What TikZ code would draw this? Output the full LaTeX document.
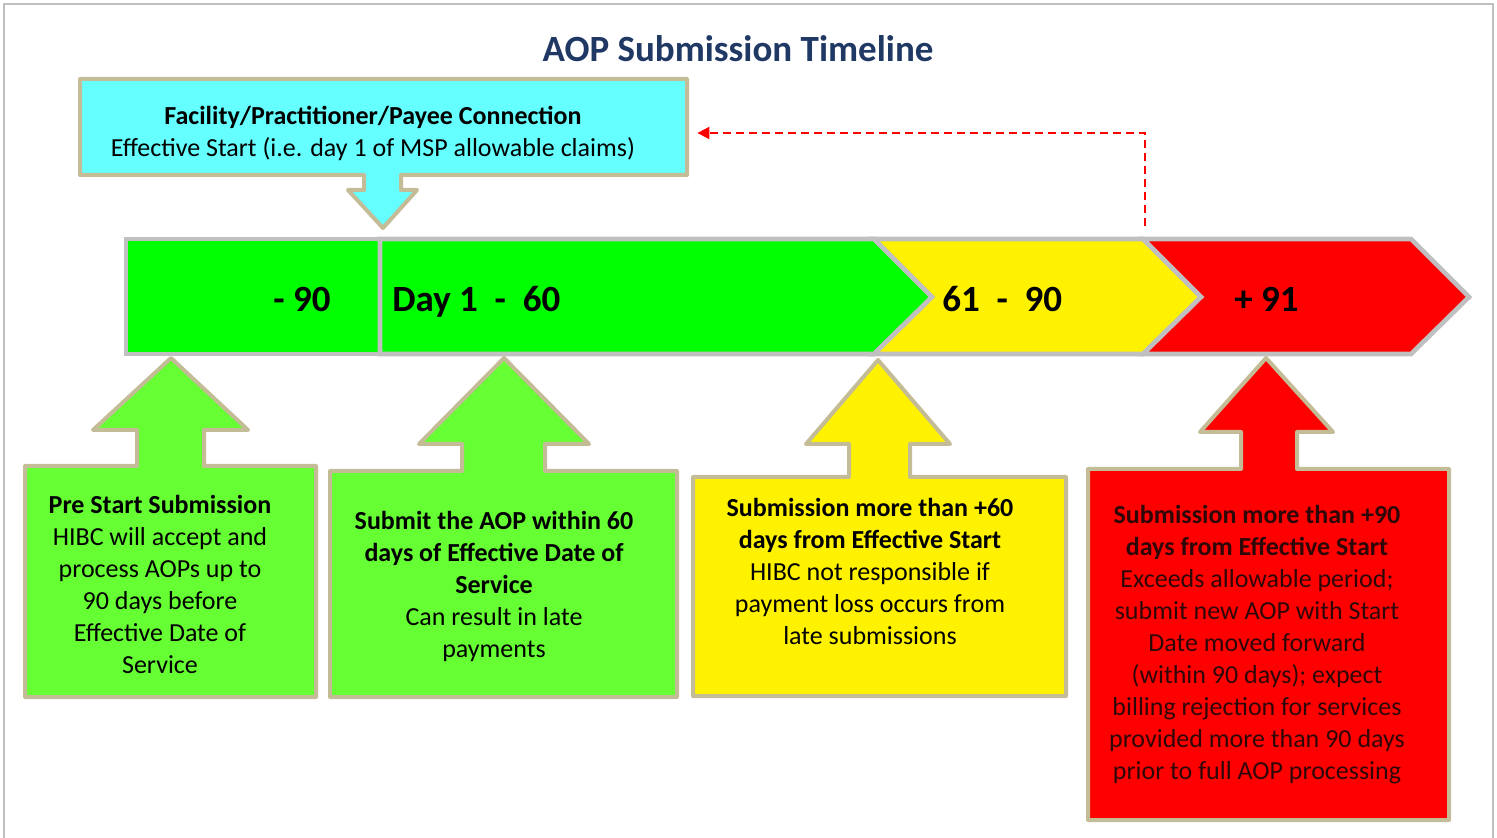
\documentclass[tikz,border=0pt]{standalone}
\usepackage{fontspec}
\setmainfont{Carlito}
\usetikzlibrary{arrows.meta,positioning}

\definecolor{tanline}{HTML}{C4BC96}
\definecolor{cyanfill}{HTML}{66FFFF}
\definecolor{limefill}{HTML}{66FF33}
\definecolor{bargray}{HTML}{C0C0C0}
\definecolor{framegray}{HTML}{BFBFBF}
\definecolor{titleblue}{HTML}{1F3864}
\definecolor{redtext}{HTML}{2E0808}

\begin{document}
\begin{tikzpicture}[
  x=0.5pt, y=-0.5pt,
  callout/.style={draw=tanline, line width=2pt, line join=round},
  seg/.style={draw=bargray, line width=2.3pt, line join=miter},
  body/.style={font=\fontsize{13}{16}\selectfont, align=center, inner sep=0pt},
  barlabel/.style={font=\fontsize{18.5}{22}\selectfont\bfseries, inner sep=0pt},
  back/.style={-{Triangle[length=6pt,width=6pt]}, red, line width=1pt,
               dash pattern=on 4pt off 2.5pt, shorten >=5pt}
]
\useasboundingbox (0,0) rectangle (1497,838);
%% outer frame, open at the bottom
\draw[framegray, line width=1pt] (4,838) -- (4,4) -- (1493,4) -- (1493,838);

%% title
\node[font=\fontsize{18.5}{22}\selectfont\bfseries, text=titleblue] (title) at (738,49)
  {AOP Submission Timeline};

%% connection box with down arrow
\path[callout, fill=cyanfill] (80,79) -- (687,79) -- (687,175) -- (401,175)
  -- (401,190) -- (417,190) -- (383,228) -- (348,190) -- (364,190)
  -- (364,175) -- (80,175) -- cycle;
\node[body, minimum width=314pt, minimum height=48pt] (conn) at (373,133)
  {\textbf{Facility/Practitioner/Payee Connection}\\
   Effective Start (i.e. day 1 of MSP allowable claims)};

%% timeline bar
\path[seg, fill=green] (126,239) rectangle (380,354);
\path[seg, fill=green] (380,239) -- (874,239) -- (932,297) -- (874,354)
  -- (380,354) -- cycle;
\path[seg, fill=yellow] (874,239) -- (1143,239) -- (1201,297) -- (1143,354)
  -- (874,354) -- (932,297) -- cycle;
\path[seg, fill=red] (1143,239) -- (1411,239) -- (1469,297) -- (1411,354)
  -- (1143,354) -- (1201,297) -- cycle;
\node[barlabel, anchor=east] (pre) at (331,299) {-\ 90};
\node[barlabel, anchor=west] (ontime) at (392,302) {Day 1\ \ -\ \ 60};
\node[barlabel, anchor=west] (late) at (942,299) {61\ \ -\ \ 90};
\node[barlabel, anchor=west] (over) at (1234,299) {+ 91};
\coordinate (overtop) at (1145,226);

%% dashed link back to the effective start
\draw[back] (overtop) |- (conn.east);

%% callouts below the bar
\path[callout, fill=limefill] (25,466) -- (137,466) -- (137,430) -- (93,430)
  -- (171,358) -- (248,430) -- (204,430) -- (204,466) -- (316,466)
  -- (316,697) -- (25,697) -- cycle;
\path[callout, fill=limefill] (330,471) -- (462,471) -- (462,444) -- (419,444)
  -- (504,358) -- (589,444) -- (545,444) -- (545,471) -- (677,471)
  -- (677,697) -- (330,697) -- cycle;
\path[callout, fill=yellow] (693,477) -- (849,477) -- (849,444) -- (806,444)
  -- (878,360) -- (950,444) -- (910,444) -- (910,477) -- (1066,477)
  -- (1066,696) -- (693,696) -- cycle;
\path[callout, fill=red] (1088,469) -- (1241,469) -- (1241,432) -- (1200,432)
  -- (1266,358) -- (1333,432) -- (1297,432) -- (1297,469) -- (1449,469)
  -- (1449,820) -- (1088,820) -- cycle;

\node[body] (prenote) at (160,584)
  {\textbf{Pre Start Submission}\\
   HIBC will accept and\\process AOPs up to\\90 days before\\
   Effective Date of\\Service};
\node[body] (ontimenote) at (494,586)
  {\textbf{Submit the AOP within 60}\\\textbf{days of Effective Date of}\\
   \textbf{Service}\\Can result in late\\payments};
\node[body] (latenote) at (870,571)
  {\textbf{Submission more than +60}\\\textbf{days from Effective Start}\\
   HIBC not responsible if\\payment loss occurs from\\late submissions};
\node[body, text=redtext] (overnote) at (1257,645)
  {\textbf{Submission more than +90}\\\textbf{days from Effective Start}\\
   Exceeds allowable period;\\submit new AOP with Start\\
   Date moved forward\\(within 90 days); expect\\
   billing rejection for services\\provided more than 90 days\\
   prior to full AOP processing};
\end{tikzpicture}
\end{document}
